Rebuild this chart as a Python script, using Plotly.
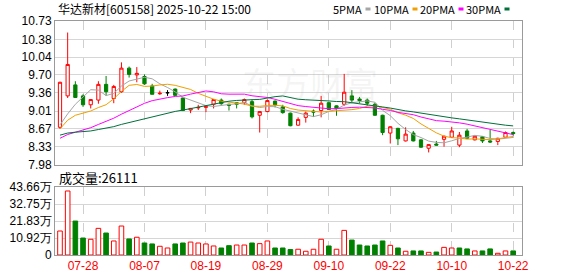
import plotly.graph_objects as go
import pandas as pd

# ---------------- data ----------------
dates = ["07-23", "07-24", "07-25", "07-28", "07-29", "07-30", "07-31", "08-01", "08-04", "08-05",
         "08-06", "08-07", "08-08", "08-11", "08-12", "08-13", "08-14", "08-15", "08-18", "08-19",
         "08-20", "08-21", "08-22", "08-25", "08-26", "08-27", "08-28", "08-29", "09-01", "09-02",
         "09-03", "09-04", "09-05", "09-08", "09-09", "09-10", "09-11", "09-12", "09-15", "09-16",
         "09-17", "09-18", "09-19", "09-22", "09-23", "09-24", "09-25", "09-26", "09-29", "09-30",
         "10-09", "10-10", "10-13", "10-14", "10-15", "10-16", "10-17", "10-20", "10-21", "10-22"]

# closes of the 29 sessions before the first visible one (needed for the moving averages)
hist_close = [8.70, 8.78, 8.85, 8.80, 8.70, 8.62, 8.58, 8.55, 8.60, 8.52,
              8.45, 8.40, 8.33, 8.30, 8.28, 8.25, 8.22, 8.30, 8.27, 8.30,
              8.25, 8.32, 8.70, 8.85, 8.85, 8.85, 8.35, 8.42, 8.55]

open_ = [8.70, 9.30, 9.51, 9.30, 9.13, 9.22, 9.52, 9.25, 9.38, 9.83,
         9.70, 9.67, 9.49, 9.34, 9.36, 9.43, 9.26, 9.03, 9.07, 9.08,
         9.14, 9.22, 9.14, 9.17, 9.17, 9.19, 8.93, 9.00, 9.20, 9.09,
         8.97, 8.74, 8.89, 9.01, 9.02, 9.17, 9.11, 9.14, 9.30, 9.24,
         9.22, 9.14, 8.93, 8.59, 8.68, 8.44, 8.59, 8.46, 8.30, 8.38,
         8.47, 8.51, 8.36, 8.63, 8.46, 8.52, 8.44, 8.43, 8.51, 8.60]
high = [9.57, 10.51, 9.58, 9.33, 9.24, 9.58, 9.68, 9.51, 9.94, 9.86,
        9.85, 9.71, 9.53, 9.40, 9.41, 9.44, 9.27, 9.07, 9.13, 9.10,
        9.24, 9.25, 9.15, 9.18, 9.25, 9.23, 9.01, 9.23, 9.21, 9.13,
        8.98, 8.89, 9.00, 9.04, 9.30, 9.18, 9.12, 9.72, 9.41, 9.28,
        9.25, 9.17, 8.94, 8.72, 8.69, 8.70, 8.63, 8.47, 8.38, 8.44,
        8.54, 8.71, 8.61, 8.67, 8.54, 8.53, 8.65, 8.50, 8.62, 8.62]
low = [8.67, 9.26, 9.26, 9.09, 9.06, 9.15, 9.30, 9.16, 9.36, 9.65,
       9.56, 9.51, 9.33, 9.32, 9.30, 9.30, 9.01, 8.97, 9.03, 8.99,
       9.06, 9.13, 9.02, 9.06, 9.13, 8.87, 8.60, 8.99, 9.08, 8.96,
       8.72, 8.73, 8.79, 8.90, 8.89, 9.03, 8.92, 9.11, 9.16, 9.16,
       9.11, 8.92, 8.55, 8.39, 8.36, 8.43, 8.43, 8.31, 8.22, 8.35,
       8.33, 8.50, 8.32, 8.48, 8.45, 8.40, 8.40, 8.36, 8.50, 8.54]
close = [9.56, 9.90, 9.27, 9.13, 9.23, 9.52, 9.38, 9.48, 9.83, 9.71,
         9.73, 9.53, 9.33, 9.35, 9.36, 9.31, 9.02, 9.06, 9.08, 9.10,
         9.23, 9.15, 9.12, 9.14, 9.23, 8.90, 9.00, 9.21, 9.13, 8.98,
         8.73, 8.85, 8.97, 8.99, 9.16, 9.04, 9.06, 9.37, 9.22, 9.21,
         9.16, 8.93, 8.60, 8.71, 8.48, 8.57, 8.44, 8.32, 8.37, 8.36,
         8.53, 8.63, 8.55, 8.49, 8.53, 8.44, 8.42, 8.49, 8.60, 8.58]
volume = [154000, 411000, 218000, 109000, 101000, 171000, 141000, 90000, 186000, 103000,
          114000, 77000, 71000, 56000, 45000, 71000, 77000, 83000, 77000, 71000,
          58000, 45000, 60000, 64000, 64000, 77000, 73000, 90000, 45000, 45000,
          35000, 37000, 24000, 37000, 101000, 58000, 37000, 158000, 96000, 64000,
          58000, 64000, 90000, 62000, 45000, 24000, 26000, 26000, 17000, 19000,
          49000, 45000, 45000, 39000, 26000, 26000, 39000, 11000, 26000, 26111]

price_ticks = [10.73, 10.38, 10.04, 9.70, 9.36, 9.01, 8.67, 8.33, 7.98]
vol_ticks = [0, 109150, 218300, 327450, 436600]
vol_tick_text = ["0", "10.92万", "21.83万", "32.75万", "43.66万"]
date_tick_idx = [3, 11, 19, 27, 35, 43, 51, 59]
ma_periods = [5, 10, 20, 30]
ma_names = ["5PMA", "10PMA", "20PMA", "30PMA"]
ma_colors = ["#a6a6a6", "#f0a000", "#ff00ff", "#00703c"]
title_text = "华达新材[605158] 2025-10-22 15:00"
watermark_text = "东方财富"

# ---------------- geometry helpers ----------------
W, H = 578, 276
ML, MR, MT, MB = 55, 56, 21, 21
PW, PH = W - ML - MR, H - MT - MB


def xp(px):
    return (px - ML) / PW


def yp(py):
    return (H - MB - py) / PH


RED, GREEN, BLACK = "#ff0000", "#008000", "#000000"
n = len(close)
xs = list(range(n))

fig = go.Figure()

# moving averages
full_close = pd.Series(hist_close + close)
for per, name, col in zip(ma_periods, ma_names, ma_colors):
    ma = full_close.rolling(per).mean().iloc[-n:].tolist()
    fig.add_trace(go.Scatter(x=xs, y=ma, mode="lines", line=dict(color=col, width=1),
                             xaxis="x", yaxis="y", hoverinfo="skip"))

# candles
groups = [
    ([i for i in xs if close[i] > open_[i]], RED, "#ffffff"),
    ([i for i in xs if close[i] < open_[i]], GREEN, GREEN),
    ([i for i in xs if close[i] == open_[i]], BLACK, BLACK),
]
for idx, lc, fc in groups:
    if not idx:
        continue
    fig.add_trace(go.Candlestick(
        x=idx,
        open=[open_[i] for i in idx], high=[high[i] for i in idx],
        low=[low[i] for i in idx], close=[close[i] for i in idx],
        increasing=dict(line=dict(color=lc, width=1), fillcolor=fc),
        decreasing=dict(line=dict(color=lc, width=1), fillcolor=fc),
        whiskerwidth=0, xaxis="x", yaxis="y", hoverinfo="skip"))

# volume bars: colour by change versus previous close
prev = [hist_close[-1]] + close[:-1]
up_v = [i for i in xs if close[i] >= prev[i]]
dn_v = [i for i in xs if close[i] < prev[i]]
fig.add_trace(go.Bar(x=up_v, y=[volume[i] for i in up_v], width=0.6,
                     marker=dict(color="#ffffff", line=dict(color=RED, width=1)),
                     xaxis="x2", yaxis="y2", hoverinfo="skip"))
fig.add_trace(go.Bar(x=dn_v, y=[volume[i] for i in dn_v], width=0.6,
                     marker=dict(color=GREEN, line=dict(color=GREEN, width=1)),
                     xaxis="x2", yaxis="y2", hoverinfo="skip"))

x_range = [-0.65, 60.15]
common_x = dict(range=x_range, tickvals=date_tick_idx, showgrid=True, gridcolor="#cfcfcf",
                griddash="dash", gridwidth=1, zeroline=False, showline=True, mirror=True,
                linecolor="#9a9a9a", linewidth=1, ticks="", fixedrange=True, automargin=False)
common_y = dict(showgrid=True, gridcolor="#d6d6d6", gridwidth=1, zeroline=False, showline=True,
                mirror=True, linecolor="#9a9a9a", linewidth=1, ticks="", automargin=False,
                tickfont=dict(family="Liberation Sans, Arial", size=12, color="#000000"))

fig.update_layout(
    width=W, height=H, margin=dict(l=ML, r=MR, t=MT, b=MB, autoexpand=False),
    paper_bgcolor="#ffffff", plot_bgcolor="#ffffff", showlegend=False,
    boxgap=0.4, bargap=0.4, barmode="overlay",
    xaxis=dict(domain=[0, 1], anchor="y", showticklabels=False, rangeslider=dict(visible=False),
               **common_x),
    xaxis2=dict(domain=[0, 1], anchor="y2", showticklabels=True, matches="x",
                ticktext=[dates[i] for i in date_tick_idx],
                tickfont=dict(family="Liberation Sans, Arial", size=12, color=RED), **common_x),
    yaxis=dict(domain=[yp(165), 1], range=[price_ticks[-1], price_ticks[0]], tickvals=price_ticks,
               ticktext=["%.2f" % v for v in price_ticks], **common_y),
    yaxis2=dict(domain=[0, yp(187)], range=[vol_ticks[0], vol_ticks[-1]], tickvals=vol_ticks,
                ticktext=vol_tick_text, **common_y),
)

annots = [
    dict(text=title_text, x=xp(56), y=yp(9), xanchor="left", yanchor="middle",
         font=dict(family="Noto Sans CJK SC", size=12, color="#000000")),
    dict(text="成交量:%d" % volume[-1], x=xp(57), y=yp(177), xanchor="left", yanchor="middle",
         font=dict(family="Noto Sans CJK SC", size=13, color="#000000")),
    dict(text=watermark_text, x=xp(310), y=yp(83), xanchor="center", yanchor="middle",
         font=dict(family="Noto Sans CJK SC", size=34, color="rgba(170,170,170,0.13)")),
]
legend_right = [364, 411, 457, 503]
shapes = []
for name, col, xr in zip(ma_names, ma_colors, legend_right):
    annots.append(dict(text=name, x=xp(xr), y=yp(9), xanchor="right", yanchor="middle",
                       font=dict(family="Noto Sans CJK SC", size=11, color="#000000")))
    shapes.append(dict(type="rect", xref="paper", yref="paper", x0=xp(xr + 1.5), x1=xp(xr + 6.5),
                       y0=yp(7.5), y1=yp(10.5), fillcolor=col, line=dict(width=0)))
for a in annots:
    a.update(xref="paper", yref="paper", showarrow=False)
fig.update_layout(annotations=annots, shapes=shapes)

fig.write_html("out.html")
